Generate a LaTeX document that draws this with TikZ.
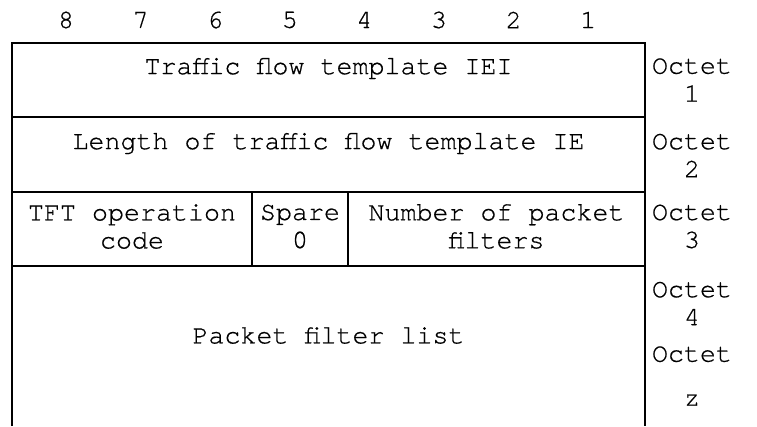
\documentclass[tikz,border=0pt]{standalone}
\usepackage{fontspec}
\setmonofont{texgyrecursor-regular.otf}[FakeBold=0.6]

\begin{document}
\begin{tikzpicture}[x=0.75pt,y=-0.75pt,line width=1.5pt,
  every node/.style={font=\ttfamily\fontsize{20}{21}\selectfont,align=center,inner sep=0pt}]
\useasboundingbox (0,0) rectangle (757,426);

\node (b8) at (66,20)  {8};
\node (b7) at (140.6,20) {7};
\node (b6) at (215.2,20) {6};
\node (b5) at (289.8,20) {5};
\node (b4) at (364.4,20) {4};
\node (b3) at (439,20) {3};
\node (b2) at (513.6,20) {2};
\node (b1) at (588.2,20) {1};

\coordinate (t0) at (12,43);   \coordinate (t1) at (645,43);
\coordinate (a0) at (12,117);  \coordinate (a1) at (645,117);
\coordinate (c0) at (12,192);  \coordinate (c1) at (645,192);
\coordinate (d0) at (12,266);  \coordinate (d1) at (645,266);
\coordinate (e0) at (12,426);  \coordinate (e1) at (645,426);
\coordinate (s0) at (252,192); \coordinate (s1) at (252,266);
\coordinate (n0) at (348,192); \coordinate (n1) at (348,266);

\draw (e0) -- (t0) -- (t1) -- (e1);
\draw (a0) -- (a1);
\draw (c0) -- (c1);
\draw (d0) -- (d1);
\draw (s0) -- (s1);
\draw (n0) -- (n1);

\node (iei)   at (328.5,68.5)  {Traffic flow template IEI};
\node (len)   at (328.5,143.5) {Length of traffic flow template IE};
\node (tft)   at (132,226.5)   {TFT operation\\code};
\node (spare) at (300,226.5)   {Spare\\0};
\node (npf)   at (496.5,226.5) {Number of packet\\filters};
\node (pfl)   at (328.5,335.5) {Packet filter list};

\node (o1) at (692,80)    {Octet\\1};
\node (o2) at (692,155.5) {Octet\\2};
\node (o3) at (692,226.5) {Octet\\3};
\node (o4) at (692,303.5) {Octet\\4};
\node (oz) at (692,376)   {Octet\\[12pt]z};
\end{tikzpicture}
\end{document}
